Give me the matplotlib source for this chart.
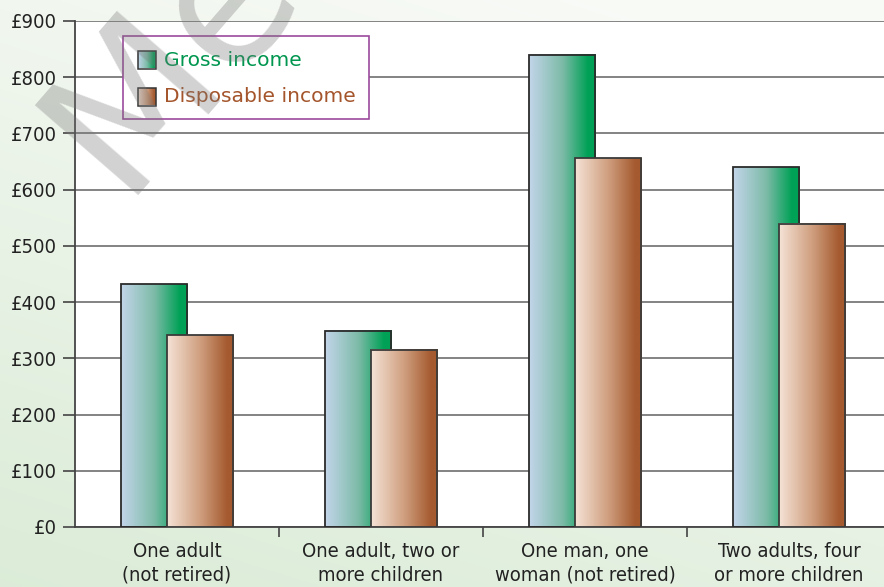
import numpy as np
import matplotlib
matplotlib.use("Agg")
import matplotlib.pyplot as plt
from matplotlib import font_manager as fm
from matplotlib.colors import LinearSegmentedColormap
from matplotlib.patches import Rectangle

categories = ["One adult\n(not retired)", "One adult, two or\nmore children",
              "One man, one\nwoman (not retired)", "Two adults, four\nor more children"]
gross = [432, 349, 840, 640]
disposable = [341, 315, 656, 539]
yticks = [0, 100, 200, 300, 400, 500, 600, 700, 800, 900]

# condensed face for the axis labels if there is one
try:
    p = fm.findfont(fm.FontProperties(family="DejaVu Sans", stretch="condensed"),
                    fallback_to_default=False)
    has_cond = "Condensed" in p
except Exception:
    has_cond = False
if has_cond:
    axis_font = dict(family="DejaVu Sans", fontstretch="condensed", fontsize=14.5)
else:
    axis_font = dict(family="DejaVu Sans", fontsize=13.4)

gross_cmap = LinearSegmentedColormap.from_list(
    "gross", [(0, "#c3d5ea"), (0.5, "#7dbba8"), (0.88, "#00a156"), (1, "#00a156")])
disp_cmap = LinearSegmentedColormap.from_list(
    "disp", [(0, "#f5e3d6"), (0.5, "#cf9e7e"), (0.9, "#a55a2f"), (1, "#a55a2f")])
grad = np.linspace(0, 1, 256).reshape(1, -1)

fig = plt.figure(figsize=(8.84, 5.87), dpi=100)

# pale green background fading to white at the top right
bg = fig.add_axes([0, 0, 1, 1], zorder=-10)
yy, xx = np.mgrid[0:1:200j, 0:1:200j]
t = np.clip(0.75 * yy + 0.35 * xx, 0, 1)
low = np.array([0.86, 0.925, 0.845])
high = np.array([0.975, 0.982, 0.968])
img = low[None, None, :] * (1 - t[..., None]) + high[None, None, :] * t[..., None]
bg.imshow(img, origin="lower", extent=[0, 1, 0, 1], aspect="auto")
bg.axis("off")

ax = fig.add_axes([75 / 884, 60 / 587, 816 / 884, 506 / 587])
ax.set_facecolor("white")

x = np.arange(len(categories))
w = 0.324
off = 0.113
for i in range(len(categories)):
    g0 = x[i] - off - w / 2
    ax.imshow(grad, cmap=gross_cmap, extent=[g0, g0 + w, 0, gross[i]],
              aspect="auto", zorder=2, interpolation="bilinear")
    d0 = x[i] + off - w / 2
    ax.imshow(grad, cmap=disp_cmap, extent=[d0, d0 + w, 0, disposable[i]],
              aspect="auto", zorder=4, interpolation="bilinear")
ax.bar(x - off, gross, w, fill=False, edgecolor="#2b2b2b", linewidth=1.3, zorder=3)
ax.bar(x + off, disposable, w, fill=False, edgecolor="#3a3a3a", linewidth=1.3, zorder=5)

ax.set_yticks(yticks)
ax.set_yticklabels([f"£{v}" for v in yticks], color="#222", **axis_font)
ax.yaxis.grid(True, color="#6e6e6e", linewidth=1.2)
ax.set_axisbelow(True)
ax.tick_params(axis="y", length=9, width=1.2, color="#444", pad=4)

ax.set_xticks([0.5, 1.5, 2.5])
ax.set_xticklabels([])
ax.set_xticks(x, minor=True)
ax.set_xticklabels(categories, minor=True, color="#222", linespacing=1.3, **axis_font)
ax.tick_params(axis="x", which="major", length=7, width=1.2, color="#444")
ax.tick_params(axis="x", which="minor", length=0, pad=11)

for s in ["top", "right"]:
    ax.spines[s].set_visible(False)
ax.spines["left"].set_color("#444")
ax.spines["left"].set_linewidth(1.3)
ax.spines["bottom"].set_color("#444")
ax.spines["bottom"].set_linewidth(1.3)

# legend box drawn in axes fraction
ax.add_patch(Rectangle((0.0588, 0.806), 0.301, 0.164, transform=ax.transAxes,
                       facecolor="white", edgecolor="#9c4a9c", linewidth=1.2, zorder=6))
lx0, lx1 = 63 / 816, 81 / 816
entries = [("Gross income", gross_cmap, "#00964f", 60),
           ("Disposable income", disp_cmap, "#a4552b", 97)]
for label, cm, col, py in entries:
    yc = 1 - (py - 21) / 506
    h = 17 / 506
    ax.imshow(grad, cmap=cm, extent=[lx0, lx1, yc - h / 2, yc + h / 2],
              transform=ax.transAxes, aspect="auto", zorder=7)
    ax.add_patch(Rectangle((lx0, yc - h / 2), lx1 - lx0, h, transform=ax.transAxes,
                           fill=False, edgecolor="#333", linewidth=1.1, zorder=8))
    ax.text(89 / 816, yc, label, transform=ax.transAxes, fontsize=14.6,
            family="DejaVu Sans", color=col, va="center", ha="left", zorder=8)

ax.set_xlim(-0.5, 3.5)
ax.set_ylim(0, 900)

# faint watermark
fig.text(120 / 884, 1 - 195 / 587, "Mes", fontsize=135, family="DejaVu Sans",
         color="#777777", alpha=0.33, rotation=49,
         rotation_mode="anchor", ha="left", va="baseline", zorder=20)

fig.savefig("out.png", dpi=100)
